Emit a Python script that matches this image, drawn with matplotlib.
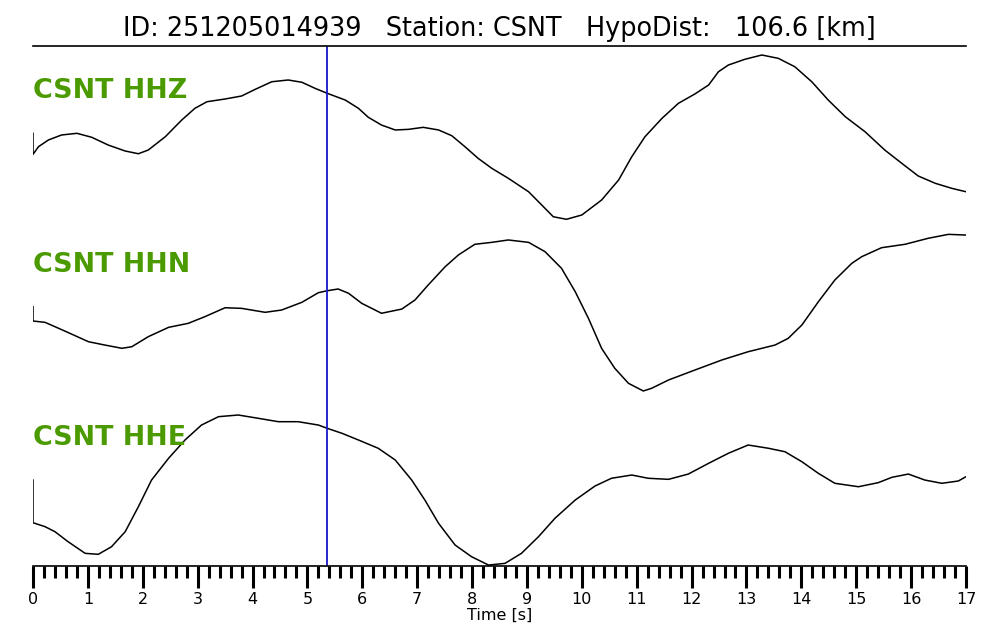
import numpy as np
import matplotlib
matplotlib.use('Agg')
import matplotlib.pyplot as plt
from matplotlib.ticker import MultipleLocator

# waveform data (normalised amplitude)
hhz_t = [0.00, 0.00, 0.10, 0.28, 0.52, 0.80, 1.07, 1.37, 1.68, 1.92, 2.10, 2.41, 2.71, 2.95, 3.17,
         3.50, 3.80, 4.05, 4.35, 4.65, 4.90, 5.14, 5.36, 5.69, 5.93, 6.11, 6.35, 6.60, 6.84, 7.11,
         7.39, 7.63, 7.87, 8.11, 8.36, 8.66, 9.03, 9.27, 9.48, 9.72, 10.00, 10.36, 10.67, 10.91,
         11.15, 11.46, 11.76, 12.06, 12.31, 12.49, 12.67, 12.97, 13.28, 13.58, 13.88, 14.19, 14.49,
         14.80, 15.16, 15.52, 15.83, 16.13, 16.44, 16.74, 17.00]
hhz_a = [-0.083, -0.322, -0.235, -0.159, -0.102, -0.083, -0.128, -0.216, -0.284, -0.315, -0.273,
         -0.122, 0.068, 0.201, 0.276, 0.307, 0.341, 0.417, 0.503, 0.523, 0.497, 0.428, 0.372, 0.295,
         0.201, 0.099, 0.011, -0.045, -0.038, -0.015, -0.045, -0.110, -0.235, -0.367, -0.481, -0.594,
         -0.747, -0.898, -1.031, -1.060, -1.011, -0.841, -0.614, -0.349, -0.122, 0.087, 0.258, 0.364,
         0.466, 0.617, 0.693, 0.758, 0.807, 0.769, 0.674, 0.503, 0.295, 0.106, -0.065, -0.273,
         -0.424, -0.568, -0.651, -0.708, -0.747]

hhn_t = [0.00, 0.00, 0.22, 0.58, 1.01, 1.31, 1.62, 1.80, 2.10, 2.47, 2.83, 3.13, 3.50, 3.80, 4.23,
         4.53, 4.90, 5.20, 5.36, 5.56, 5.75, 5.99, 6.35, 6.72, 6.96, 7.20, 7.51, 7.75, 8.05, 8.36,
         8.66, 9.03, 9.33, 9.63, 9.88, 10.12, 10.36, 10.60, 10.85, 11.12, 11.27, 11.58, 12.06,
         12.55, 13.03, 13.52, 13.76, 14.01, 14.31, 14.61, 14.92, 15.10, 15.46, 15.89, 16.31,
         16.68, 17.00]
hhn_a = [-0.053, -0.216, -0.231, -0.330, -0.451, -0.489, -0.526, -0.508, -0.394, -0.288, -0.242,
         -0.167, -0.065, -0.072, -0.117, -0.091, -0.003, 0.106, 0.128, 0.148, 0.099, -0.015,
         -0.128, -0.080, 0.023, 0.193, 0.401, 0.534, 0.656, 0.678, 0.705, 0.678, 0.572, 0.383,
         0.117, -0.185, -0.526, -0.753, -0.924, -1.011, -0.981, -0.886, -0.773, -0.659, -0.565,
         -0.489, -0.413, -0.261, 0.003, 0.250, 0.440, 0.515, 0.617, 0.656, 0.724, 0.769, 0.761]

hhe_t = [0.00, 0.00, 0.22, 0.40, 0.64, 0.95, 1.19, 1.43, 1.68, 1.92, 2.16, 2.47, 2.77, 3.07, 3.38,
         3.74, 4.11, 4.47, 4.83, 5.20, 5.36, 5.63, 5.93, 6.29, 6.60, 6.90, 7.14, 7.39, 7.69, 7.99,
         8.30, 8.60, 8.90, 9.21, 9.51, 9.88, 10.24, 10.54, 10.91, 11.21, 11.58, 11.94, 12.31,
         12.67, 13.03, 13.40, 13.70, 14.01, 14.31, 14.61, 15.04, 15.40, 15.65, 15.95, 16.25,
         16.56, 16.86, 17.00]
hhe_a = [-0.023, -0.508, -0.553, -0.610, -0.724, -0.856, -0.867, -0.781, -0.610, -0.326, -0.023,
         0.224, 0.432, 0.602, 0.697, 0.716, 0.678, 0.640, 0.640, 0.602, 0.565, 0.508, 0.432, 0.338,
         0.205, -0.023, -0.250, -0.515, -0.761, -0.894, -0.989, -0.970, -0.856, -0.667, -0.458,
         -0.250, -0.091, -0.003, 0.034, -0.003, -0.015, 0.045, 0.167, 0.281, 0.375, 0.338, 0.299,
         0.185, 0.053, -0.060, -0.099, -0.053, 0.008, 0.045, -0.023, -0.060, -0.034, 0.015]

channels = ['CSNT HHZ', 'CSNT HHN', 'CSNT HHE']
pick_time = 5.36
event_id = '251205014939'
station = 'CSNT'
hypo_dist = 106.6

traces = [(hhz_t, hhz_a), (hhn_t, hhn_a), (hhe_t, hhe_a)]
offsets = [5, 3, 1]
label_dy = [0.40, 0.42, 0.46]

fig = plt.figure(figsize=(10, 6.4), dpi=100)
ax = fig.add_axes([0.033, 0.1156, 0.933, 0.8125])

for (t, a), off, name, dy in zip(traces, offsets, channels, label_dy):
    ax.plot(t, np.array(a) + off, color='black', lw=1.1)
    ax.text(0.0, off + dy, name, color='#4a9a00', fontsize=19.4, fontweight='bold',
            ha='left', va='center')

ax.axvline(pick_time, color='#1818c8', lw=1.3)

ax.set_xlim(0, 17)
ax.set_ylim(0, 520 / 88)
ax.set_yticks([])
ax.spines['left'].set_visible(False)
ax.spines['right'].set_visible(False)
ax.spines['top'].set_linewidth(1.2)
ax.spines['bottom'].set_linewidth(1.2)

ax.xaxis.set_major_locator(MultipleLocator(1))
ax.xaxis.set_minor_locator(MultipleLocator(0.2))
ax.tick_params(axis='x', which='major', direction='out', length=16, width=2.2, labelsize=11.5, pad=3)
ax.tick_params(axis='x', which='minor', direction='out', length=8.5, width=2.2)
ax.set_xlabel('Time [s]', fontsize=11.5, labelpad=0.5)

ax.set_title('ID: %s   Station: %s   HypoDist:   %.1f [km]' % (event_id, station, hypo_dist),
             fontsize=18.4, pad=7)

fig.savefig('out.png', dpi=100)
